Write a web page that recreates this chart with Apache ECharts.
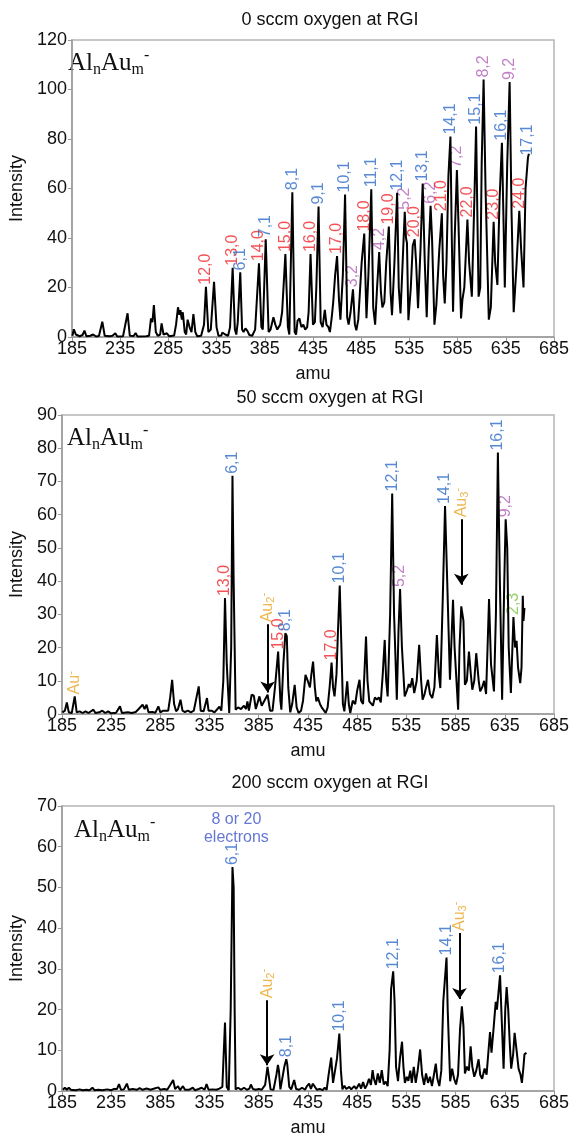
<!DOCTYPE html>
<html>
<head>
<meta charset="utf-8">
<script src="https://cdn.jsdelivr.net/npm/echarts@6/dist/echarts.min.js"></script>
<style>
html, body { margin: 0; padding: 0; background: #fff; }
#chart { width: 572px; height: 1138px; }
</style>
</head>
<body>
<div id="chart"></div>
<script>
// tick labels as printed (the 200 sccm panel really reads 385 twice)
var ticksTop = ['185', '235', '285', '335', '385', '435', '485', '535', '585', '635', '685'];
var ticksMid = ['185', '235', '285', '335', '385', '435', '485', '535', '585', '635', '685'];
var ticksBot = ['185', '235', '385', '335', '385', '435', '485', '535', '585', '635', '685'];

var titles = ['0 sccm oxygen at RGI', '50 sccm oxygen at RGI', '200 sccm oxygen at RGI'];

// spectra: [amu, intensity]
var spec0 = [[185.5,0.5],[187,3.1],[189,1],[191,0.5],[193,0.3],[196,0.8],[198,2.6],[200,0.3],[204,0.5],[207,1],[210,0.2],[213,0.4],[216.5,6.2],[219,0.5],[224,0.3],[227,0.5],[230,1.5],[232,0.2],[238,0.3],[242.7,9.6],[245,0.5],[249,0.4],[251,1.6],[253,0.2],[262,0.3],[265,0.5],[267,7.5],[268.5,6],[270,12.9],[272,2],[274,0.5],[276.5,1],[278,5.5],[280,1],[282,0.6],[283.5,1.5],[286,0.3],[291,0.6],[293,5],[295,12],[296.5,9],[297.5,10.8],[299,7],[300,10],[302,2],[303.5,1],[305,7],[307,4],[309,2],[311,9.2],[313,2],[315,0.3],[319,0.5],[322,5],[324,20.3],[326.5,2],[329,3],[332.4,22.3],[335,4],[337,0.5],[340,0.6],[341,1.8],[344,1],[347,0.5],[349,4],[351.7,28],[354,3],[355.5,1],[357,6],[359.6,26.1],[361.5,3],[363,2],[365,3.5],[367,2.5],[369,0.8],[372,0.5],[375,3],[379,29.8],[381.5,4],[383,3],[386,39.5],[389,2],[391,3],[394,8],[396,5],[398,3],[401,5],[403,10],[406.4,33.5],[409,4],[410.5,1],[413.6,58.5],[416,2],[417.5,1],[419,6.5],[421,7.5],[423,4],[425,5],[427,3],[429,4],[430.5,10],[432.5,33.5],[435,5],[437,6],[438.5,20],[440.8,52.7],[443,6],[445,4],[447.3,11],[449,5],[451,4],[452.6,2],[454.5,8],[456,14],[458,25],[460,32.7],[462,15],[463.5,7],[466,25],[468.3,57.6],[470.5,8],[472,5],[474,10],[476.5,19.3],[478.5,5],[480,2.7],[482,7],[484,20],[485.5,30],[488.2,41.8],[490.5,7.6],[492.5,25],[495.5,59.7],[497.5,12],[499.5,5],[501.5,20],[503.7,34.3],[505.5,18],[507,12],[509,14],[511,30],[513.7,44.6],[515.5,18],[517,8.8],[519.5,30],[522.3,58.3],[524,20],[525.8,9.5],[528,30],[530.2,50.6],[531.5,40],[532.5,38],[534,6.8],[536.5,20],[538.5,37],[540.5,39.5],[542,30],[544,11.6],[546.5,35],[548.8,62],[551,30],[553,8],[555,35],[557,53],[558.5,40],[561,5],[563,13],[566,35],[568.7,50],[570,25],[571.7,13.6],[573.5,30],[575.5,65],[577.6,81],[579,40],[580.3,10.2],[582,40],[584.3,67.5],[586,45],[588.6,7.5],[590,15],[592,20],[595.2,47.5],[597,30],[599.8,16.3],[602.5,57],[604.2,85],[605.5,50],[606.8,16.3],[608.5,20],[610,70],[612,104],[614,60],[617.4,7],[619.5,12],[622.4,46.6],[624,30],[626.3,21],[628.5,55],[631,78.5],[632.5,50],[634,20],[636.5,70],[639,103],[641,50],[643.2,10],[646,28],[649,51],[651,35],[653.4,20],[655.5,60],[658,72.5],[659,74]];

var spec50 = [[185.5,0.5],[188,1],[190,3.5],[192,0.5],[195,0.3],[198,5.3],[200,0.5],[203,0.8],[206,0.3],[209,0.8],[212,0.3],[214,0.6],[217,1.3],[219,0.3],[223,0.5],[226,1],[229,0.3],[232,0.8],[235,0.2],[240,0.4],[244,2.3],[246,0.3],[252,0.5],[256,0.3],[260,0.6],[263,1.5],[267,2.8],[269,1.5],[271,2.8],[273,0.5],[277,0.6],[280,0.4],[283,2.3],[285,0.5],[288,1],[290,0.4],[293,1],[295,5],[297,10.3],[299,3],[301,0.8],[303,1.5],[305.5,4.3],[307.5,1],[310,0.6],[313,1],[316,0.5],[319,1],[321,0.6],[324,8.3],[326,1],[329,0.8],[332.4,4.8],[334,1],[337,1],[340,0.5],[343,1.5],[345,2.2],[347,1],[349,10],[350.7,34.9],[352.5,15],[355,0.3],[357,20],[358.3,71.7],[359.5,40],[361.5,1.3],[364,2],[367,1.5],[370,2.5],[372,1.5],[373.5,3.8],[375,1],[377.8,5.8],[380,5.5],[382,1.5],[385.7,5.3],[388,2.5],[390,3],[394,5.8],[396.5,1],[399,1],[401.5,8],[404.7,18.8],[407,4],[408,1.3],[410,15],[412,24.3],[413.5,23.5],[415,8],[417,0.5],[419,3],[421.5,8.8],[423.5,2],[425.5,0.3],[428,1],[430,4],[432.5,11.8],[435,9.8],[437,8],[438.5,12],[440.2,15.8],[442,8],[443.5,3.8],[445,5],[447.5,2.8],[449,2],[451,1.5],[453,0.3],[455,2],[457,8],[459,15.5],[460.5,8],[462,5.3],[464,12],[465.5,25],[467.3,38.7],[469,20],[470.5,3],[472,0.8],[474.9,9.8],[476.5,3],[478,0.3],[480.5,4],[483,3],[485,7],[487.4,10.3],[489,4],[491,3],[494,23.3],[495.5,10],[497.3,3.8],[499,4],[501,2.5],[503,5],[505,4.3],[507,5],[509,3.5],[511,12],[513,22.3],[514.5,10],[516,5.3],[518.5,30],[520.6,66.4],[522.5,30],[525.3,4.3],[527,25],[528.6,37.6],[530.5,20],[533.3,5.3],[535.5,7],[537.5,9],[539,8],[541,10.8],[543,6.3],[545.5,10],[548,20.8],[550,10],[551.5,4.3],[553.5,6],[555,8],[557,10.3],[559,6],[561.3,4.8],[563.5,8],[566,23.8],[568,12],[569.5,7.8],[572,35],[574.3,62.6],[576.5,40],[579.3,10.3],[582.4,34.4],[584,20],[587.6,1.3],[589,20],[590.8,32.4],[593,28],[594.5,8.8],[596.5,10],[598.6,18.8],[600.5,12],[602,7.3],[604,10],[606,18.3],[608.5,10],[610,6.8],[612,8],[614,10],[616,6],[617.5,20],[619,34.6],[621,15],[624,6.8],[626,30],[628,78.7],[630,40],[632.3,4.3],[634.5,40],[635.9,58.6],[637.5,50],[639,20],[641.2,6.3],[643.8,29.2],[645.5,20],[647,22],[648.5,14],[650.7,9.3],[652,14],[653.3,35.6],[654,28],[655,31.9]];

var spec200 = [[186,0.3],[188,0.8],[190,0.3],[192,0.8],[194,0.3],[196,0.6],[199,0.2],[203,0.4],[206,0.2],[210,0.3],[213,0.2],[216,0.8],[218,0.2],[222,0.3],[226,0.2],[231,0.4],[233,0.6],[235,0.2],[238,0.5],[241,0.5],[243,1.7],[245,0.3],[248,0.4],[251,1.8],[253,0.3],[257,0.5],[261,0.3],[264,0.7],[267,0.3],[271,0.6],[275,0.3],[279,0.6],[283,0.9],[285,0.3],[289,0.5],[292,0.3],[295,1.5],[298,2.7],[300,0.5],[303,1.2],[305,0.2],[308,1.2],[310,0.3],[314,0.3],[318,0.8],[320,0.2],[324,0.5],[327,0.8],[330,0.3],[332,1.7],[334,0.3],[338,0.4],[342,0.3],[345,0.6],[348,1],[350.7,16.8],[352.5,1],[354.5,0.2],[356.5,20],[358.3,55],[359.5,50],[360.5,20],[361.5,0.4],[364,0.8],[367,0.3],[370,0.8],[373,0.3],[375.5,0.6],[377,1.6],[379,0.5],[382,0.3],[385,0.5],[388,0.3],[391.5,1.5],[393.9,5.9],[395,4],[397,0.4],[400,0.3],[403,4],[404.5,6.4],[405.5,5],[407,0.4],[409,0.5],[411,6],[413,7.8],[414,6.5],[416,1],[418,0.4],[421,2.7],[423,0.5],[426,0.3],[429,0.8],[432,0.3],[434,1.2],[436.2,1.8],[438,0.5],[440,1.8],[442,1.5],[444,0.3],[447,0.5],[450,0.2],[452,0.8],[454,0.3],[456,4],[458.6,8.2],[460.5,2],[462.5,1.6],[464.5,8],[466.9,14.1],[468.5,5],[470,0.4],[472,1.3],[474,0.5],[477,1],[479,0.4],[482,1.2],[484,0.5],[487,1.8],[489,0.6],[491,2.2],[493,0.6],[495,1.5],[497,3],[499,1.5],[500.7,5.1],[502,3],[504,1.5],[506,4.3],[508,2],[510,5.1],[512,1.6],[514,2.3],[516,1.2],[518,10],[519.5,25],[521.6,29.4],[523,22],[524.5,6],[526.5,2.4],[528.5,8],[530.6,12.1],[532,6],[533.5,2],[535.5,3.5],[537,2.5],[539,5],[540.5,2],[542.5,5.9],[544.5,2],[546.5,5],[549,10.2],[551,4],[553,1.5],[555,4.3],[557,2],[559,3.5],[561,1.2],[563,4],[564.9,6.7],[566.5,3],[568.5,1.2],[570.5,5],[572.5,22],[575.8,32.8],[577,20],[579.5,2.4],[581.5,5.5],[583.5,3],[585.5,1.6],[587.5,4],[589.5,15],[591.4,20.8],[593,16],[594.5,4.3],[596.5,6],[598.5,5],[600.3,11],[602,6],[604,3.5],[606,5],[608.4,7.8],[610,4],[612,3],[614.5,5.5],[616.5,4],[618.5,10],[620,14.5],[621.5,9.4],[623.5,15],[625.8,21.9],[627,20],[630.2,28.4],[631.5,20],[633.8,5.5],[635.5,20],[636.9,25.5],[638.5,20],[640,12],[641.5,5.5],[643.5,9],[645,14.3],[647,10],[649,5.5],[651,4],[652.4,2],[654,6],[655,9],[657,9.4]];

// peak labels: [amu, intensity, text, colour key]
var labels0 = [[324,20.3,'12,0','r'],[351.7,28,'13,0','r'],[359.6,26.1,'6,1','b'],[379,29.8,'14,0','r'],[386,39.5,'7,1','b'],[406.4,33.5,'15,0','r'],[413.6,58.5,'8,1','b'],[432.5,33.5,'16,0','r'],[440.8,52.7,'9,1','b'],[460,32.7,'17,0','r'],[468.3,57.6,'10,1','b'],[476.5,19.3,'3,2','p'],[488.2,41.8,'18,0','r'],[495.5,59.7,'11,1','b'],[503.7,34.3,'4,2','p'],[513.7,44.6,'19,0','r'],[522.3,58.3,'12,1','b'],[530.2,50.6,'5,2','p'],[540.5,39.5,'20,0','r'],[548.8,62,'13,1','b'],[557,53,'6,2','p'],[568.7,50,'21,0','r'],[577.6,81,'14,1','b'],[584.3,67.5,'7,2','p'],[595.2,47.5,'22,0','r'],[604.2,85,'15,1','b'],[612,104,'8,2','p'],[622.4,46.6,'23,0','r'],[631,78.5,'16,1','b'],[639,103,'9,2','p'],[649,51,'24,0','r'],[658,72.5,'17,1','b']];
var labels50 = [[198,5.3,'Au-','o'],[350.7,34.9,'13,0','r'],[358.3,71.7,'6,1','b'],[394,27,'Au2-','o'],[404.7,18.8,'15,0','r'],[412,24.3,'8,1','b'],[459,15.5,'17,0','r'],[467.3,38.7,'10,1','b'],[520.6,66.4,'12,1','b'],[528.6,37.6,'5,2','p'],[574.3,62.6,'14,1','b'],[591,58.6,'Au3-','o'],[628,78.7,'16,1','b'],[635.9,58.6,'9,2','p'],[643.8,29.2,'2,3','g']];
var labels200 = [[358.3,55,'6,1','b'],[393.5,22.3,'Au2-','o'],[413,7.8,'8,1','b'],[466.9,14.1,'10,1','b'],[521.6,29.4,'12,1','b'],[575.8,32.8,'14,1','b'],[589,38.8,'Au3-','o'],[630.2,28.4,'16,1','b']];

// arrows: [amu, from intensity, to intensity]
var arrows50 = [[394,27,6.5],[590.8,58.6,38.9]];
var arrows200 = [[393.5,22.3,6.3],[589,38.8,22.6]];

var colors = { r: '#f0282d', b: '#2f6cc8', p: '#b05fb8', o: '#e9a526', g: '#7cc242' };
var sans = 'Liberation Sans, Arial, sans-serif';

var grids = [
    { left: 55, top: 40, width: 504, height: 297 },
    { left: 55, top: 415, width: 503, height: 299 },
    { left: 57, top: 806, width: 502, height: 297 }
];
var yMax = [120, 90, 70];
var yStep = [20, 10, 10];
var tickSets = [ticksTop, ticksMid, ticksBot];

function xAxisFor(i) {
    return {
        gridIndex: i, type: 'value', min: 185, max: 685, interval: 50,
        name: 'amu', nameLocation: 'middle', nameGap: 28,
        nameTextStyle: { fontSize: 18, color: '#111', fontFamily: sans },
        axisLine: { lineStyle: { color: '#999', width: 1.5 } },
        axisTick: { show: true, length: 4, lineStyle: { color: '#999' } },
        splitLine: { show: false },
        axisLabel: {
            fontSize: 18, color: '#111', fontFamily: sans, margin: 3,
            formatter: function (v) { return tickSets[i][Math.round((v - 185) / 50)]; }
        }
    };
}
function yAxisFor(i) {
    return {
        gridIndex: i, type: 'value', min: 0, max: yMax[i], interval: yStep[i],
        name: 'Intensity', nameLocation: 'middle', nameGap: 34,
        nameTextStyle: { fontSize: 18, color: '#111', fontFamily: sans },
        axisLine: { show: true, lineStyle: { color: '#999', width: 1.5 } },
        axisTick: { show: true, length: 4, lineStyle: { color: '#999' } },
        splitLine: { show: false },
        axisLabel: { fontSize: 18, color: '#111', fontFamily: sans, margin: 5 }
    };
}

function specSeries(i, data, arrows) {
    var s = {
        type: 'line', xAxisIndex: i, yAxisIndex: i, data: data,
        showSymbol: false, symbol: 'none', silent: true,
        lineStyle: { color: '#000', width: 2 }
    };
    if (arrows) {
        s.markLine = {
            silent: true, symbol: ['none', 'arrow'], symbolSize: 11,
            label: { show: false },
            lineStyle: { color: '#000', width: 2, type: 'solid' },
            data: arrows.map(function (a) {
                return [{ coord: [a[0], a[1]] }, { coord: [a[0], a[2]] }];
            })
        };
    }
    return s;
}

function labelText(t) {
    if (t.indexOf('Au') === 0) {
        var n = t.replace('Au', '').replace('-', '');
        return 'Au' + (n ? '{sub|' + n + '}' : '') + '{sup|-}';
    }
    return t;
}

function labelSeries(i, list) {
    return {
        type: 'scatter', xAxisIndex: i, yAxisIndex: i, symbolSize: 0, silent: true,
        data: list.map(function (l) {
            return {
                value: [l[0], l[1]], name: l[2],
                label: { color: colors[l[3]] }
            };
        }),
        label: {
            show: true, position: 'top', rotate: 90, align: 'left', verticalAlign: 'middle',
            distance: 2, fontSize: 16, fontFamily: sans, lineHeight: 18,
            formatter: function (p) { return labelText(p.name); },
            rich: {
                sub: { fontSize: 11, verticalAlign: 'bottom', lineHeight: 12, color: colors.o, fontFamily: sans },
                sup: { fontSize: 11, verticalAlign: 'top', lineHeight: 10, color: colors.o, fontFamily: sans }
            }
        }
    };
}

var electronNote = [[362.3, 64.5, '8 or 20\nelectrons']];

var graphics = [];
var titleY = [20, 398, 783];
var alY = [63, 438, 830];
var alX = [68, 67, 74];
for (var k = 0; k < 3; k++) {
    graphics.push({
        type: 'text', x: 330, y: titleY[k],
        style: { text: titles[k], fontSize: 18, fontFamily: sans, fill: '#111', align: 'center', verticalAlign: 'middle' }
    });
    graphics.push({
        type: 'text', x: alX[k], y: alY[k],
        style: {
            text: '{a|Al}{b|n}{a|Au}{b|m}{c|-}', verticalAlign: 'middle', align: 'left',
            rich: {
                a: { fontSize: 25, fontFamily: 'Liberation Serif, Times New Roman, serif', fill: '#111', lineHeight: 30 },
                b: { fontSize: 16, fontFamily: 'Liberation Serif, Times New Roman, serif', fill: '#111', verticalAlign: 'bottom', lineHeight: 14 },
                c: { fontSize: 16, fontFamily: 'Liberation Serif, Times New Roman, serif', fill: '#111', verticalAlign: 'top', lineHeight: 12 }
            }
        }
    });
}

var chart = echarts.init(document.getElementById('chart'));
chart.setOption({
    animation: false,
    backgroundColor: '#fff',
    grid: grids.map(function (g) {
        return Object.assign({ show: true, borderColor: '#b5b5b5', borderWidth: 1.5, backgroundColor: 'transparent' }, g);
    }),
    xAxis: [xAxisFor(0), xAxisFor(1), xAxisFor(2)],
    yAxis: [yAxisFor(0), yAxisFor(1), yAxisFor(2)],
    graphic: graphics,
    series: [
        specSeries(0, spec0),
        specSeries(1, spec50, arrows50),
        specSeries(2, spec200, arrows200),
        labelSeries(0, labels0),
        labelSeries(1, labels50),
        labelSeries(2, labels200),
        {
            type: 'scatter', xAxisIndex: 2, yAxisIndex: 2, symbolSize: 0, silent: true,
            data: electronNote.map(function (e) { return { value: [e[0], e[1]], name: e[2] }; }),
            label: {
                show: true, position: 'inside', fontSize: 16, lineHeight: 18, color: '#3d55c8',
                fontFamily: sans, align: 'center', verticalAlign: 'middle',
                formatter: function (p) { return p.name; }
            }
        }
    ]
});
</script>
</body>
</html>
